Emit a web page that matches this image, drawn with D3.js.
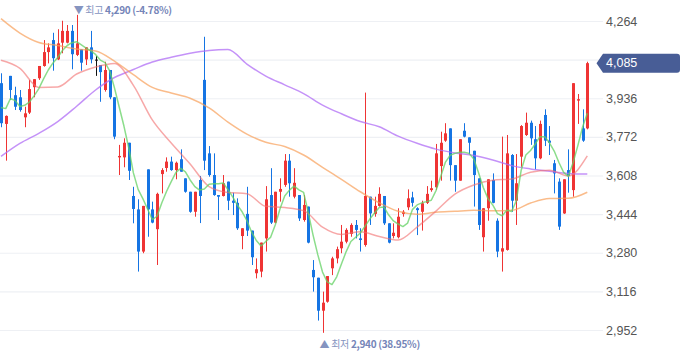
<!DOCTYPE html>
<html><head><meta charset="utf-8">
<script src="https://cdn.jsdelivr.net/npm/d3@7/dist/d3.min.js"></script>
<style>
html,body{margin:0;padding:0;background:#fff;}
svg{display:block;}
</style></head>
<body><svg id="chart" width="680" height="358"></svg>
<script>
// ---- data ----
const opens  = [4000,3827,4031,3949,3940,3855,3875,3983,4021,4073,4132,4183,4101,4172,4172,4222,4120,4144,4101,4152,4100,4077,3971,4056,3940,3685,3685,3747,3521,3464,3285,3634,3464,3380,3614,3640,3667,3631,3677,3596,3539,3454,3589,4014,3702,3610,3525,3521,3582,3501,3492,3351,3445,3374,3193,3200,3341,3525,3408,3539,3568,3671,3518,3525,3419,3476,3207,3174,3034,3072,3214,3256,3299,3327,3360,3398,3341,3313,3518,3445,3479,3521,3405,3351,3346,3445,3473,3515,3469,3454,3492,3546,3558,3648,3756,3808,3652,3586,3798,3770,3713,3596,3346,3469,3589,3416,3285,3292,3695,3501,3688,3780,3832,3762,3681,3865,3756,3660,3582,3447,3631,3546,3926,3808,3808];
const highs  = [4042,3863,4031,3985,3971,3900,4014,4017,4073,4183,4169,4214,4229,4265,4247,4247,4290,4144,4152,4222,4115,4077,4091,4056,3940,3738,3766,3747,3560,3507,3479,3634,3497,3535,3639,3685,3688,3667,3719,3596,3539,3539,3606,4197,3733,3702,3525,3610,3582,3535,3511,3384,3560,3374,3256,3323,3563,3639,3539,3596,3699,3699,3639,3525,3525,3476,3249,3174,3115,3181,3263,3306,3398,3384,3405,3419,3384,3960,3518,3518,3558,3521,3405,3405,3469,3461,3549,3539,3473,3501,3563,3586,3742,3794,3830,3808,3652,3762,3830,3770,3713,3596,3469,3592,3617,3426,3773,3780,3699,3699,3822,3875,3841,3818,3841,3889,3818,3674,3596,3592,3719,4000,3954,3889,4091];
const lows   = [3813,3671,3929,3886,3879,3813,3869,3940,4014,4070,4084,4053,4098,4127,4169,4059,4115,4053,4077,4084,4031,3921,3964,3932,3762,3610,3643,3589,3405,3200,3278,3348,3405,3228,3532,3624,3628,3592,3624,3535,3450,3433,3406,3631,3603,3522,3419,3519,3461,3440,3377,3295,3351,3228,3171,3176,3285,3402,3405,3497,3560,3518,3511,3415,3412,3320,3115,2992,2940,3068,3185,3235,3278,3320,3348,3341,3285,3306,3398,3433,3476,3398,3320,3341,3341,3433,3461,3476,3355,3374,3487,3539,3546,3586,3751,3586,3539,3586,3770,3699,3476,3377,3285,3416,3490,3261,3200,3289,3454,3398,3645,3776,3738,3634,3677,3733,3695,3532,3377,3445,3535,3518,3827,3751,3804];
const closes = [3830,3861,3971,3900,3886,3872,3975,4017,4073,4132,4152,4106,4169,4222,4222,4123,4169,4087,4152,4101,4100,4047,4056,3940,3773,3691,3747,3628,3466,3285,3479,3464,3408,3530,3631,3667,3631,3662,3624,3539,3454,3539,3521,3671,3610,3525,3518,3575,3501,3492,3384,3384,3374,3261,3210,3323,3507,3408,3539,3551,3671,3575,3577,3426,3483,3323,3176,3034,3068,3181,3256,3295,3327,3377,3398,3377,3334,3521,3447,3479,3530,3405,3323,3365,3433,3454,3511,3492,3461,3490,3530,3554,3702,3747,3787,3652,3586,3762,3773,3747,3610,3398,3469,3592,3492,3285,3299,3702,3501,3575,3818,3832,3766,3681,3827,3756,3747,3617,3391,3592,3606,4000,3932,3756,4085];

// moving average lines
const ma5 = [3897,3892,3935,3926,3901,3906,3920,3946,3977,4018,4056,4086,4109,4139,4160,4172,4176,4163,4149,4137,4122,4098,4087,4052,3980,3899,3818,3727,3619,3549,3510,3466,3421,3435,3491,3540,3582,3621,3638,3623,3589,3561,3546,3551,3571,3573,3573,3576,3548,3517,3482,3454,3417,3368,3332,3309,3328,3345,3398,3466,3521,3546,3563,3547,3536,3449,3355,3272,3198,3156,3145,3178,3232,3285,3328,3346,3364,3393,3423,3449,3472,3474,3440,3415,3402,3391,3406,3463,3483,3492,3497,3503,3544,3604,3665,3694,3702,3707,3707,3702,3678,3620,3557,3510,3483,3446,3437,3461,3455,3502,3629,3695,3714,3742,3773,3773,3747,3712,3663,3621,3604,3663,3735,3814,3872];
const maIdx  = [0,4,8,12,16,20,24,28,32,36,40,44,48,52,56,60,64,68,72,76,80,84,88,92,96,100,104,108,112,116,120,124];
const ma20   = [4097,4063,3982,3984,4039,4069,4084,3991,3844,3746,3657,3561,3536,3531,3477,3472,3459,3389,3358,3369,3349,3334,3389,3457,3529,3568,3588,3593,3622,3630,3606,3691];
const ma60   = [4274,4213,4173,4160,4145,4137,4094,4036,3982,3958,3936,3895,3835,3784,3749,3731,3695,3643,3592,3539,3492,3456,3443,3452,3456,3460,3458,3460,3491,3510,3511,3537];
const ma120  = [3689,3744,3787,3837,3902,3971,4024,4058,4090,4110,4127,4139,4143,4081,4030,3993,3956,3907,3870,3837,3815,3775,3745,3720,3704,3693,3674,3650,3636,3626,3617,3614];

const tickValues = [2952,3116,3280,3444,3608,3772,3936,4100,4264];
const highText = ["▼ 최고 ", "4,290 (-4.78%)"];
const lowText  = ["▲ 최저 ", "2,940 (38.95%)"];

// ---- drawing ----
const svg = d3.select("#chart");
const n = closes.length;
const idx = d3.range(n);
const plotRight = 603;
const x = d3.scalePoint().domain(idx).range([1, 587.3]);
const y = d3.scaleLinear().domain([2952, 4264]).range([330, 21]);

const UP = "#ef3434", DOWN = "#1574e3";
const colorOf = i => closes[i] > opens[i] ? UP : (closes[i] < opens[i] ? DOWN : "#111");

// gridlines
const grid = svg.append("g").attr("class","grid")
  .call(d3.axisRight(y).tickValues(tickValues).tickSize(plotRight).tickFormat(""));
grid.select(".domain").remove();
grid.selectAll("line").attr("stroke","#eef0f4").attr("stroke-width",1.2);

// y labels
const yax = svg.append("g").attr("transform","translate(606,0)")
  .call(d3.axisRight(y).tickValues(tickValues).tickSize(0).tickPadding(0).tickFormat(d3.format(",")));
yax.select(".domain").remove();
yax.selectAll("text").attr("fill","#555").style("font-family","'Liberation Sans', Arial, sans-serif").style("font-size","12.5px");
yax.selectAll(".tick").filter(d => d === 4100).remove();

const plot = svg.append("g");
plot.append("clipPath").attr("id","clip").append("rect").attr("x",0).attr("y",0).attr("width",plotRight).attr("height",358);
const inner = plot.append("g").attr("clip-path","url(#clip)");

// candles
const bw = 3;
inner.selectAll("line.wick").data(idx).join("line").attr("class","wick")
  .attr("x1", i => Math.round(x(i)) + 0.5).attr("x2", i => Math.round(x(i)) + 0.5)
  .attr("y1", i => y(highs[i])).attr("y2", i => y(lows[i]))
  .attr("stroke", colorOf).attr("stroke-width", 1);
inner.selectAll("rect.body").data(idx).join("rect").attr("class","body")
  .attr("x", i => Math.round(x(i)) + 0.5 - bw/2)
  .attr("width", bw)
  .attr("y", i => y(Math.max(opens[i], closes[i])))
  .attr("height", i => Math.max(1, Math.abs(y(opens[i]) - y(closes[i]))))
  .attr("fill", colorOf);

// moving averages
const lineIdx = (vals, ids, curve) => d3.line().x((d,k) => x(ids[k])).y(d => y(d)).curve(curve)(vals);
const drawLine = (vals, ids, color, curve) => inner.append("path")
  .attr("d", lineIdx(vals, ids, curve)).attr("fill","none")
  .attr("stroke", color).attr("stroke-width", 1.5).attr("stroke-linejoin","round");
drawLine(ma120, maIdx, "rgba(176,110,245,0.75)", d3.curveMonotoneX);
drawLine(ma60, maIdx, "rgba(248,160,90,0.7)", d3.curveMonotoneX);
drawLine(ma20, maIdx, "rgba(242,110,110,0.6)", d3.curveMonotoneX);
drawLine(ma5, idx, "rgba(100,210,100,0.75)", d3.curveLinear);

// high / low annotations
const fontK = "'Noto Sans CJK KR','Noto Sans',sans-serif";
const iHi = d3.maxIndex(highs), iLo = d3.minIndex(lows);
function annot(i, yy, parts){
  const t = svg.append("text").attr("x", x(i) - 3).attr("y", yy)
    .attr("dominant-baseline","central")
    .style("font-family", fontK).style("font-size","10px").style("letter-spacing","-0.3px").attr("fill","#7585b8");
  t.append("tspan").text(parts[0]).attr("fill","#8594c0");
  t.append("tspan").text(parts[1]).attr("font-weight","bold");
}
annot(iHi, 9, highText);
annot(iLo, 343, lowText);

// last price tag
const last = closes[n-1];
const ty = y(last);
svg.append("path")
  .attr("d", `M596.5,${ty} L603,${ty-9.5} L677,${ty-9.5} Q680,${ty-9.5} 680,${ty-6.5} L680,${ty+6.5} Q680,${ty+9.5} 677,${ty+9.5} L603,${ty+9.5} Z`)
  .attr("fill","#485d96");
svg.append("text").attr("x",606).attr("y",ty).attr("dy","0.34em")
  .attr("fill","#fff").style("font-family","'Liberation Sans', Arial, sans-serif").style("font-size","12.5px")
  .text(d3.format(",")(last));
</script></body></html>
